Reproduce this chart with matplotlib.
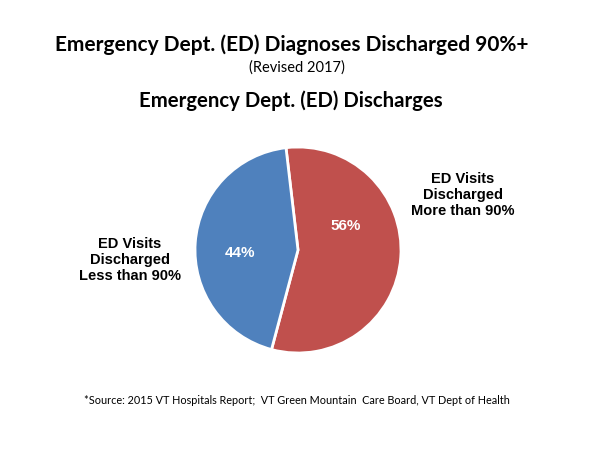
import matplotlib
matplotlib.use("Agg")
import matplotlib.pyplot as plt

categories = ["ED Visits\nDischarged\nMore than 90%", "ED Visits\nDischarged\nLess than 90%"]
values = [56, 44]
pct_labels = ["56%", "44%"]
colors = ["#C0504D", "#4F81BD"]

title = "Emergency Dept. (ED) Diagnoses Discharged 90%+"
subtitle = "(Revised 2017)"
chart_title = "Emergency Dept. (ED) Discharges"
source = "*Source: 2015 VT Hospitals Report;  VT Green Mountain  Care Board, VT Dept of Health"

W, H = 600, 450
fig = plt.figure(figsize=(6, 4.5), dpi=100)
fig.patch.set_facecolor("white")

cx, cy, r = 298, 250, 103
ax = fig.add_axes([(cx - r) / W, 1 - (cy + r) / H, 2 * r / W, 2 * r / H])
wedges, _ = ax.pie(values, colors=colors, startangle=96.7, counterclock=False,
                   wedgeprops=dict(edgecolor="white", linewidth=2.0))
ax.set_xlim(-1, 1)
ax.set_ylim(-1, 1)
ax.set_aspect("equal")
ax.axis("off")

# percent labels inside slices
pct_pos = [(346, 226), (240, 253)]
for (px, py), t in zip(pct_pos, pct_labels):
    fig.text(px / W, 1 - py / H, t, ha="center", va="center", color="white",
             fontsize=11, fontweight="bold", family="Liberation Sans")

# category labels outside
cat_pos = [(463, 195), (130, 260)]
for (px, py), t in zip(cat_pos, categories):
    fig.text(px / W, 1 - py / H, t, ha="center", va="center", color="black",
             fontsize=10.5, fontweight="bold", family="Liberation Sans", linespacing=1.22)

fig.text(292 / W, 1 - 45 / H, title, ha="center", va="center", fontsize=15,
         fontweight="bold", family="Lato")
fig.text(297 / W, 1 - 68 / H, subtitle, ha="center", va="center", fontsize=10.5,
         family="Lato")
fig.text(291 / W, 1 - 101 / H, chart_title, ha="center", va="center", fontsize=14.7,
         fontweight="bold", family="Lato")
fig.text(297 / W, 1 - 400 / H, source, ha="center", va="center", fontsize=7.8,
         family="Lato")

fig.savefig("out.png", dpi=100, facecolor="white")
